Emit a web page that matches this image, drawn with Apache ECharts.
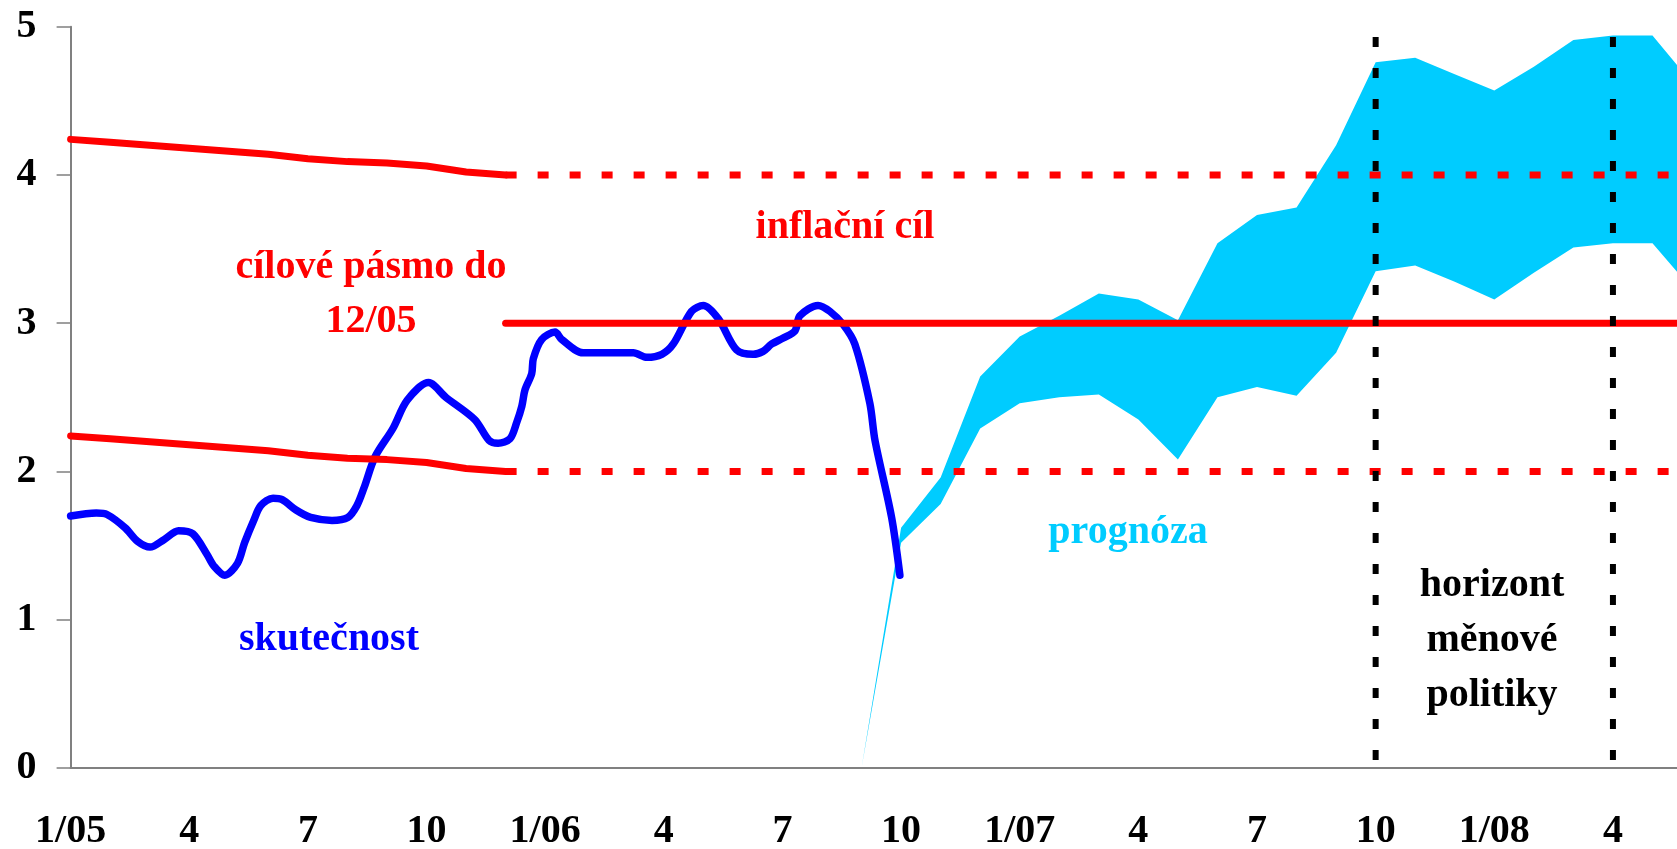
<!DOCTYPE html>
<html>
<head>
<meta charset="utf-8">
<title>Inflace – skutečnost a prognóza</title>
<script src="https://cdn.jsdelivr.net/npm/echarts@6/dist/echarts.min.js"></script>
<style>
  html, body { margin: 0; padding: 0; background: #fff; }
  #chart { width: 1677px; height: 849px; }
</style>
</head>
<body>
<div id="chart"></div>
<script>
// ===== data (x = months since 1/05) =====
const X_LABELS = ['1/05', '4', '7', '10', '1/06', '4', '7', '10', '1/07', '4', '7', '10', '1/08', '4'];

// cílové pásmo do 12/05
const TARGET_PAST_X = [0, 1, 2, 3, 4, 5, 6, 7, 8, 9, 10, 11];
const TARGET_PAST_HIGH = [4.24, 4.22, 4.20, 4.18, 4.16, 4.14, 4.11, 4.09, 4.08, 4.06, 4.02, 4.00];
const TARGET_PAST_LOW = [2.24, 2.22, 2.20, 2.18, 2.16, 2.14, 2.11, 2.09, 2.08, 2.06, 2.02, 2.00];

// inflační cíl od 1/06
const TARGET_X = [11, 41];
const TARGET_MID = [3, 3];
const TARGET_HIGH = [4, 4];
const TARGET_LOW = [2, 2];

// skutečnost
const ACTUAL_X = [0, 0.65, 0.92, 1.38, 1.69, 2.01, 2.36, 2.73, 3.09, 3.45, 3.63, 3.90, 4.22, 4.40,
  4.63, 4.81, 5.12, 5.35, 5.70, 6.07, 6.61, 7.01, 7.24, 7.42, 7.70, 8.15, 8.51, 9.05, 9.49, 10.22,
  10.58, 10.81, 11.11, 11.28, 11.41, 11.49, 11.66, 11.70, 11.91, 12.25, 12.42, 12.96, 14.23, 14.57,
  14.95, 15.24, 15.70, 16.0, 16.38, 16.84, 17.26, 17.51, 17.73, 18.02, 18.32, 18.44, 18.90, 19.2,
  19.54, 19.83, 20.21, 20.34, 20.76, 20.97];
const ACTUAL = [1.70, 1.72, 1.71, 1.62, 1.53, 1.49, 1.54, 1.60, 1.58, 1.44, 1.36, 1.30, 1.38, 1.52,
  1.67, 1.77, 1.82, 1.81, 1.74, 1.69, 1.67, 1.69, 1.77, 1.89, 2.10, 2.29, 2.48, 2.60, 2.50, 2.35,
  2.21, 2.19, 2.22, 2.33, 2.44, 2.55, 2.66, 2.76, 2.89, 2.94, 2.89, 2.80, 2.80, 2.77,
  2.79, 2.86, 3.08, 3.12, 3.03, 2.82, 2.79, 2.81, 2.86, 2.90, 2.95, 3.05, 3.12, 3.08,
  2.99, 2.86, 2.46, 2.21, 1.69, 1.30];

// prognóza (pás)
const BAND_X = [20, 21, 22, 23, 24, 25, 26, 27, 28, 29, 30, 31, 32, 33, 34, 35, 36, 37, 38, 39, 40, 41];
const BAND_LOW = [0, 1.52, 1.78, 2.29, 2.46, 2.50, 2.52, 2.35, 2.08, 2.50, 2.57, 2.51, 2.80, 3.35,
  3.39, 3.28, 3.16, 3.34, 3.51, 3.54, 3.54, 3.23];
const BAND_HIGH = [0, 1.62, 1.96, 2.64, 2.91, 3.05, 3.20, 3.16, 3.02, 3.54, 3.73, 3.78, 4.20, 4.76,
  4.79, 4.68, 4.57, 4.73, 4.91, 4.94, 4.94, 4.62];

// horizont měnové politiky
const HORIZON_X = [33, 39];
const HORIZON_TOP = 4.93;

// ---- helpers ----
const FONT = '"Liberation Serif", "Times New Roman", serif';
const RED = '#ff0000', BLUE = '#0000ff', CYAN = '#00ccff';
const pairs = (xs, ys) => xs.map((x, i) => [x, ys[i]]);

function redLine(name, xs, ys, dashed) {
  return {
    name, type: 'line', data: pairs(xs, ys), showSymbol: false, silent: true,
    lineStyle: { color: RED, width: 7, type: dashed ? [11, 21] : 'solid', cap: dashed ? 'butt' : 'round' },
  };
}

const series = [
  {
    name: 'prognóza', type: 'custom', silent: true, clip: true,
    data: BAND_X.map((x, i) => [x, BAND_LOW[i], BAND_HIGH[i]]),
    encode: { x: 0, y: [1, 2] },
    renderItem: (params, api) => {
      if (params.dataIndex !== 0) return null;
      const top = BAND_X.map((x, i) => api.coord([x, BAND_HIGH[i]]));
      const bot = BAND_X.map((x, i) => api.coord([x, BAND_LOW[i]])).reverse();
      return { type: 'polygon', shape: { points: top.concat(bot) }, style: { fill: CYAN } };
    },
  },
  {
    name: 'skutečnost', type: 'line', data: pairs(ACTUAL_X, ACTUAL), smooth: 0.3,
    showSymbol: false, silent: true,
    lineStyle: { color: BLUE, width: 7.5, cap: 'round', join: 'round' },
  },
  redLine('pasmoHigh', TARGET_PAST_X, TARGET_PAST_HIGH, false),
  redLine('pasmoLow', TARGET_PAST_X, TARGET_PAST_LOW, false),
  redLine('cilHigh', TARGET_X, TARGET_HIGH, true),
  redLine('cilLow', TARGET_X, TARGET_LOW, true),
  redLine('cil', TARGET_X, TARGET_MID, false),
];
HORIZON_X.forEach((x, i) => series.push({
  name: 'horizont' + i, type: 'line', data: [[x, HORIZON_TOP], [x, 0]], showSymbol: false, silent: true,
  lineStyle: { color: '#000', width: 6, type: [10, 21] },
}));

const txt = (text, x, y, fill, lineHeight) => ({
  type: 'text', x, y, silent: true,
  style: {
    text, fill, align: 'center', verticalAlign: 'middle',
    fontFamily: FONT, fontWeight: 'bold', fontSize: 40, lineHeight: lineHeight || 40,
  },
});

const chart = echarts.init(document.getElementById('chart'), null, { renderer: 'canvas' });
chart.setOption({
  animation: false,
  backgroundColor: '#fff',
  grid: { left: 70.6, right: 0, top: 26.7, bottom: 81, containLabel: false, outerBoundsMode: 'none' },
  xAxis: {
    type: 'value', min: 0, max: 40.62, interval: 3,
    axisLine: { show: true, lineStyle: { color: '#808080', width: 2 } },
    axisTick: { show: false },
    splitLine: { show: false },
    axisLabel: {
      showMaxLabel: false, margin: 44,
      color: '#000', fontFamily: FONT, fontWeight: 'bold', fontSize: 40,
      formatter: v => X_LABELS[Math.round(v / 3)] || '',
    },
  },
  yAxis: {
    type: 'value', min: 0, max: 5, interval: 1,
    axisLine: { show: true, lineStyle: { color: '#808080', width: 2 } },
    axisTick: { show: true, inside: false, length: 14, lineStyle: { color: '#808080', width: 1.5 } },
    splitLine: { show: false },
    axisLabel: { margin: 34, color: '#000', fontFamily: FONT, fontWeight: 'bold', fontSize: 40 },
  },
  series,
  graphic: [
    txt('inflační cíl', 845, 228, RED),
    txt('cílové pásmo do\n12/05', 371, 295, RED, 54),
    txt('skutečnost', 329, 640, BLUE),
    txt('prognóza', 1128, 533, CYAN),
    txt('horizont\nměnové\npolitiky', 1492, 641, '#000', 55),
  ],
});
window.addEventListener('resize', () => chart.resize());
</script>
</body>
</html>
